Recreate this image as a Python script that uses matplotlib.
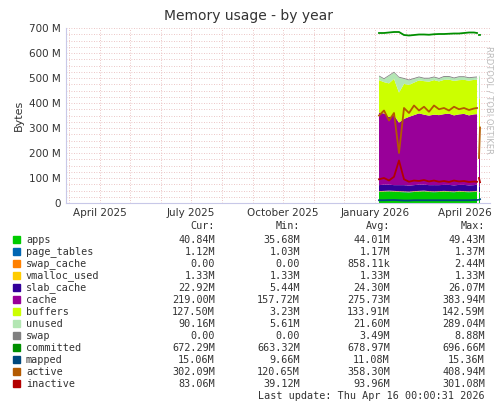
import matplotlib
matplotlib.use("Agg")
import matplotlib.pyplot as plt
import matplotlib.dates as mdates
import numpy as np
import datetime as dt

d0 = dt.date(2026, 1, 5)
dates = [d0 + dt.timedelta(days=5 * i) for i in range(20)] + [dt.date(2026, 4, 13), dt.date(2026, 4, 14), dt.date(2026, 4, 15), dt.date(2026, 4, 16)]
N = np.nan
apps = [44,45,46,45,44,43,42,44,45,46,44,43,44,45,44,43,45,44,43,44,45,N,42,40.8]
page_tables = [1.2]*21 + [N,1.1,1.12]
swap_cache = [0.9]*21 + [N,0,0]
vmalloc_used = [1.33]*21 + [N,1.33,1.33]
slab_cache = [24,25,24,23,24,25,24,24,25,24,24,25,24,24,25,24,24,25,24,24,25,N,23,22.9]
cache = [290,285,270,280,250,265,275,280,285,280,278,282,280,283,285,280,282,284,280,283,282,N,230,219]
buffers = [130,125,135,145,120,140,128,130,132,134,136,138,135,137,136,138,137,136,139,138,137,N,130,127.5]
unused = [15,12,30,25,60,20,18,15,12,10,12,11,10,12,11,10,12,11,10,9,10,N,85,90.2]
swap = [3.5]*21 + [N,0,0]
committed = [680,680,682,684,684,672,670,672,674,674,673,675,676,676,677,678,678,680,682,682,680,N,672,672.3]
mapped = [11,11,11.5,12,11,10,10,11,11,11,11,11,11,11,11,11,11,11,11,12,12,N,13,15.1]
active = [350,370,330,360,200,380,360,390,370,385,365,390,375,380,370,385,375,380,372,378,380,N,180,302]
inactive = [95,100,90,105,170,95,85,90,88,92,86,90,85,88,84,90,86,88,84,86,85,N,100,83]

stack_vals = [apps,page_tables,swap_cache,vmalloc_used,slab_cache,cache,buffers,unused,swap]
stack_cols = ["#00CC00","#0066B3","#FF8000","#FFCC00","#330099","#990099","#CCFF00","#B3E6B3","#808080"]
line_vals = [committed,mapped,active,inactive]
line_cols = ["#008F00","#00487D","#B35A00","#B30000"]

legend_rows = [
 ("apps","40.84M","35.68M","44.01M","49.43M"),
 ("page_tables","1.12M","1.03M","1.17M","1.37M"),
 ("swap_cache","0.00","0.00","858.11k","2.44M"),
 ("vmalloc_used","1.33M","1.33M","1.33M","1.33M"),
 ("slab_cache","22.92M","5.44M","24.30M","26.07M"),
 ("cache","219.00M","157.72M","275.73M","383.94M"),
 ("buffers","127.50M","3.23M","133.91M","142.59M"),
 ("unused","90.16M","5.61M","21.60M","289.04M"),
 ("swap","0.00","0.00","3.49M","8.88M"),
 ("committed","672.29M","663.32M","678.97M","696.66M"),
 ("mapped","15.06M","9.66M","11.08M","15.36M"),
 ("active","302.09M","120.65M","358.30M","408.94M"),
 ("inactive","83.06M","39.12M","93.96M","301.08M"),
]

W, H = 497, 408
fig = plt.figure(figsize=(W/100, H/100), dpi=100)
ax = fig.add_axes([66/W, 1-203/H, (490-66)/W, (203-28)/H])
x = mdates.date2num(dates)
arr = np.array(stack_vals, dtype=float)
base = np.zeros(len(x))
for v, c in zip(arr, stack_cols):
    top = base + v
    ax.fill_between(x, base, top, color=c, lw=0)
    base = top
for v, c in zip(line_vals, line_cols):
    ax.plot(x, v, color=c, lw=1.3)

ax.set_xlim(mdates.date2num(dt.date(2025,2,26)), mdates.date2num(dt.date(2026,4,26)))
ax.set_ylim(0, 700)
ax.set_yticks(np.arange(0, 701, 100))
ax.set_yticklabels(["0"] + [f"{v} M" for v in range(100, 701, 100)])
ax.set_yticks(np.arange(0, 701, 25), minor=True)
ax.xaxis.set_major_locator(mdates.MonthLocator(bymonth=[1,4,7,10]))
ax.xaxis.set_major_formatter(mdates.DateFormatter("%B %Y"))
ax.xaxis.set_minor_locator(mdates.MonthLocator())
ax.grid(True, which="both", color="#E6B3B3", ls=(0,(1,2)), lw=0.6)
ax.set_axisbelow(True)
for s in ["top","right"]:
    ax.spines[s].set_visible(False)
for s in ["left","bottom"]:
    ax.spines[s].set_color("#C8C8E8")
ax.tick_params(labelsize=7.5, colors="#333333", length=0, which="both")
ax.set_ylabel("Bytes", fontsize=8, color="#333333")
fig.text(0.5, 1-20/H, "Memory usage - by year", ha="center", fontsize=10, color="#333333")
fig.text(489/W, 1-100/H, "RRDTOOL / TOBI OETIKER", rotation=270, ha="center", va="center", fontsize=6, color="#BBBBBB")

mono = "DejaVu Sans Mono"
fs = 7.3
cols_x = [215, 300, 390, 485]
hy = 226
for lab, cx in zip(["Cur:","Min:","Avg:","Max:"], cols_x):
    fig.text(cx/W, 1-hy/H, lab, ha="right", va="center", fontsize=fs, family=mono, color="#333333")
all_cols = stack_cols + line_cols
for i, row in enumerate(legend_rows):
    y = 240 + i*12
    fig.patches.append(plt.Rectangle((13/W, 1-(y+3)/H), 7/W, 7/H, transform=fig.transFigure, color=all_cols[i]))
    fig.text(26/W, 1-y/H, row[0], ha="left", va="center", fontsize=fs, family=mono, color="#333333")
    for val, cx in zip(row[1:], cols_x):
        fig.text(cx/W, 1-y/H, val, ha="right", va="center", fontsize=fs, family=mono, color="#333333")
fig.text(485/W, 1-396/H, "Last update: Thu Apr 16 00:00:31 2026", ha="right", va="center", fontsize=fs, family=mono, color="#333333")
fig.savefig("out.png", dpi=100)
